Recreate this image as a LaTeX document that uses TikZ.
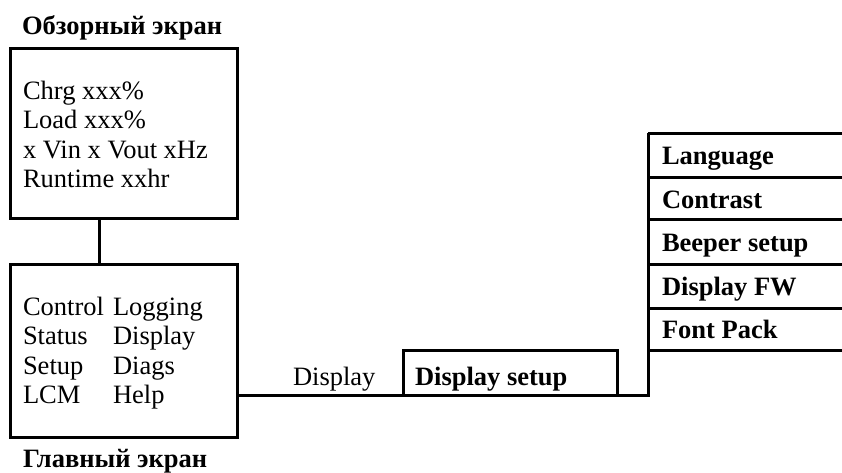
\documentclass[tikz,border=0pt]{standalone}
\usepackage{fontspec}
\setmainfont{Liberation Serif}
\begin{document}
\begin{tikzpicture}[x=1pt,y=-1pt,
  box/.style={draw, line width=3pt, inner sep=0pt, outer sep=0pt},
  conn/.style={draw, line width=3pt},
  txt/.style={anchor=base west, inner sep=0pt, outer sep=0pt, font=\fontsize{26.5}{29.5}\selectfont},
  btxt/.style={anchor=base west, inner sep=0pt, outer sep=0pt, font=\fontsize{26.5}{29.5}\selectfont\bfseries},
  ]
\useasboundingbox (0,0) rectangle (842,472);

% titles
\node[btxt] (ttop) at (22,34) {Обзорный экран};
\node[btxt] (tbot) at (23,467) {Главный экран};

% overview screen
\node[box, minimum width=227pt, minimum height=170pt] (ovr) at (123.5,133) {};
\node[txt] (o1) at (23,99.5) {Chrg xxx\%};
\node[txt] (o2) at (23,128.5) {Load xxx\%};
\node[txt] (o3) at (23,158) {x Vin x Vout xHz};
\node[txt] (o4) at (23,187) {Runtime xxhr};

% main screen
\node[box, minimum width=227pt, minimum height=173pt] (mainscr) at (123.5,350.5) {};
\node[txt] (m1) at (23,315) {Control};
\node[txt] (m2) at (23,344.5) {Status};
\node[txt] (m3) at (23,374) {Setup};
\node[txt] (m4) at (23,403.5) {LCM};
\node[txt] (m5) at (113,315) {Logging};
\node[txt] (m6) at (113,344.5) {Display};
\node[txt] (m7) at (113,374) {Diags};
\node[txt] (m8) at (113,403.5) {Help};

% vertical connector between screens
\draw[conn] (ovr.south west) ++(89,0) coordinate (vc) -- (vc |- mainscr.north);

% display setup box
\node[box, minimum width=214pt, minimum height=45pt] (dsetup) at (510,372.5) {};
\node[txt] (dlab) at (293,385) {Display};
\node[btxt] (dset) at (415,385) {Display setup};

% menu
\coordinate (mtop) at (648,133);
\coordinate (mbot) at (648,395);
\draw[conn] (mainscr.south east) ++(0,-42) coordinate (hc) -- (hc -| mbot) -- (mtop);
\foreach \yy in {133,177,219,264,308,350} {
  \draw[conn] (mtop |- 0,\yy) -- (842,\yy);
}
\node[btxt] (s1) at (662,164) {Language};
\node[btxt] (s2) at (662,208) {Contrast};
\node[btxt] (s3) at (662,251) {Beeper setup};
\node[btxt] (s4) at (662,295) {Display FW};
\node[btxt] (s5) at (662,338) {Font Pack};
\end{tikzpicture}
\end{document}
